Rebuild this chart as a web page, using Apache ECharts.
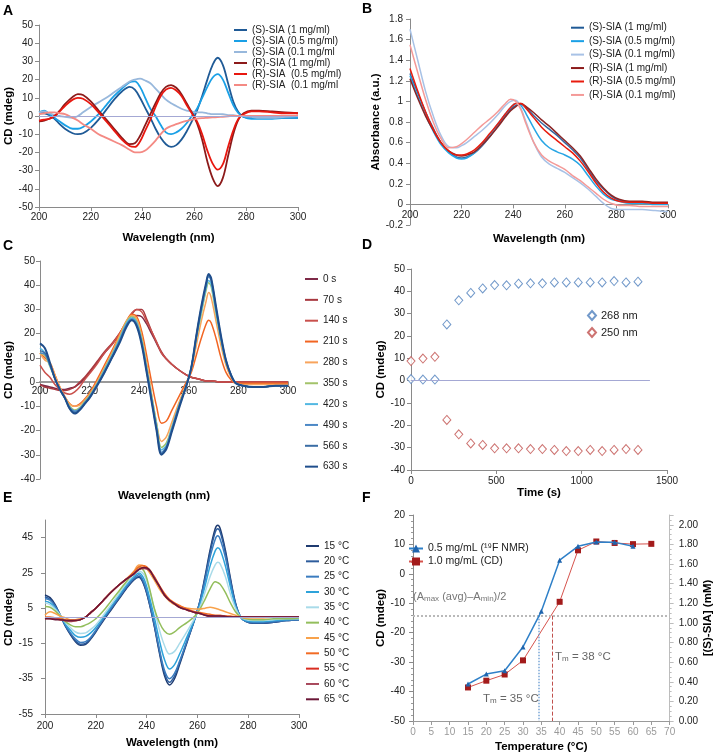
<!DOCTYPE html>
<html><head><meta charset="utf-8">
<script src="https://cdn.jsdelivr.net/npm/echarts@6/dist/echarts.min.js"></script>
<style>html,body{margin:0;padding:0;background:#fff}#c{width:715px;height:754px}</style>
</head><body><div id="c"></div>
<script>
// ---------- Panel A: CD spectra (mdeg) ----------
const wlA = [200,202,204,206,208,210,213,215,217,220,223,226,229,232,235,237,239,241,243,245,247,249,251,253,255,257,259,261,263,265,267,269,271,273,275,277,279,282,285,290,295,300];
const aS1  = [1.5,1.5,0.5,-1.5,-4.5,-7,-9.5,-10,-9.5,-6.5,-2,3.5,9,13.5,16,14.5,10,4.5,-1,-7,-12,-15.5,-17,-16,-13,-8.5,-3,3,11,20,28,32,28,18,8,2,-0.5,-1,-1,-1,-1,-1];
const aS05 = [2,3,1,-1,-3,-5,-7,-7,-6,-3,1,6,11,15,18.5,19,16,10,4,0,-5,-9,-10,-9,-7,-4,0,4,10,16,21,23,20,13,6,1.5,-0.5,-1.5,-1.5,-1.5,-1,-1];
const aS01 = [2,2.5,1.5,0.5,0,-0.5,-1,0,2,5,7.5,10,13,16,19,20,20.5,19.5,18,15,12,9,7,5.5,4,3,2.5,2,2,1.5,1,1,1,0.5,0.5,0,0,-0.5,-1,-1,-0.5,0];
const aR1  = [-3,-2.5,-1.5,0,3,6.5,10.5,12,11.5,8,3,-2,-7,-12,-15.5,-15,-11,-5,1,7,12.5,16,17,15.5,12,7,2,-4,-13,-25,-34,-38.5,-34,-22,-10,-2,1.5,3,3,2.5,2,1.5];
const aR05 = [-2.5,-2,-1.5,0,2.5,5.5,9,10,9.5,6.5,2,-3,-8,-13,-16.5,-17,-14,-8,-2,5,11,14.5,15.5,14,11,6,1.5,-3,-10,-19,-26,-29.5,-26.5,-17,-8,-1.5,1,2.5,2.5,2,1.5,1.5];
const aR01 = [1,1.5,2,2,1.5,1,-1,-2.5,-4.5,-7,-10,-12,-14,-16,-18.5,-20,-20,-19,-16.5,-13.5,-10,-7,-5.5,-4.5,-3.5,-2.7,-2,-1.5,-1.2,-1,-0.8,-0.6,-0.4,-0.2,0,0,0,0,0,0,0,0];
const namesA = ['(S)-SIA (1 mg/ml)','(S)-SIA (0.5 mg/ml)','(S)-SIA (0.1 mg/ml','(R)-SIA (1 mg/ml)','(R)-SIA  (0.5 mg/ml)','(R)-SIA  (0.1 mg/ml'];

// ---------- Panel B: absorbance ----------
const wlB = [200,203,206,209,212,215,218,220,222,225,228,231,234,237,239,241,243,245,248,251,254,257,260,263,266,269,272,275,278,281,285,290,295,300];
const bS1  = [1.27,1.08,0.9,0.74,0.6,0.51,0.46,0.45,0.46,0.5,0.57,0.66,0.76,0.86,0.92,0.96,0.97,0.94,0.86,0.79,0.73,0.67,0.6,0.53,0.45,0.34,0.23,0.15,0.08,0.04,0.02,0.02,0.01,0.01];
const bS05 = [1.25,1.05,0.87,0.71,0.58,0.5,0.45,0.44,0.45,0.5,0.58,0.68,0.78,0.88,0.94,0.98,0.96,0.88,0.74,0.62,0.55,0.51,0.48,0.44,0.38,0.28,0.18,0.1,0.05,0.03,0.01,0.01,0,0];
const bS01 = [1.7,1.4,1.1,0.86,0.67,0.56,0.55,0.57,0.6,0.66,0.72,0.79,0.87,0.96,1.0,1.01,0.93,0.8,0.6,0.46,0.39,0.35,0.31,0.26,0.21,0.15,0.08,0.01,-0.04,-0.05,-0.05,-0.05,-0.06,-0.07];
const bR1  = [1.22,1.03,0.86,0.72,0.6,0.52,0.48,0.47,0.48,0.51,0.58,0.66,0.75,0.85,0.91,0.95,0.98,0.95,0.89,0.82,0.76,0.69,0.62,0.55,0.47,0.36,0.25,0.16,0.09,0.05,0.03,0.03,0.02,0.02];
const bR05 = [1.32,1.1,0.9,0.73,0.6,0.52,0.48,0.48,0.49,0.53,0.6,0.69,0.78,0.88,0.94,0.98,0.98,0.93,0.84,0.75,0.68,0.62,0.56,0.5,0.42,0.32,0.21,0.12,0.06,0.03,0.02,0.02,0.01,0.01];
const bR01 = [1.55,1.28,1.02,0.8,0.64,0.55,0.56,0.59,0.63,0.7,0.77,0.83,0.9,0.98,1.02,1.0,0.92,0.78,0.6,0.48,0.42,0.38,0.34,0.28,0.23,0.17,0.11,0.05,0.01,-0.01,-0.01,-0.02,-0.02,-0.02];
const namesB = ['(S)-SIA (1 mg/ml)','(S)-SIA (0.5 mg/ml)','(S)-SIA (0.1 mg/ml)','(R)-SIA (1 mg/ml)','(R)-SIA (0.5 mg/ml)','(R)-SIA (0.1 mg/ml)'];

// ---------- Panel C: time series of CD spectra ----------
const wlC = [200,202,204,206,208,210,212,214,216,218,220,223,226,229,232,235,237,239,241,243,245,247,249,251,253,256,259,261,263,265,267,268,269,271,273,275,277,279,282,286,290,295,300];
const c0   = [-1,-1.5,-2,-2.5,-3,-3,-2.5,-2,-0.5,1.5,4,8,12,15.5,19.5,24,26,27.5,27,24,20,16,12,9.5,7.5,5,3,2,1.5,1,0.5,0.5,0.5,0.3,0,0,0,0,0,0,0,0,0];
const c70  = [-1,-2,-2.5,-3,-3.5,-3.5,-3,-2,0,2,4.5,8.5,12.5,16,20,25,28,30,30,26,21,16.5,12.5,9.5,7.5,5,3,2,1.5,1,0.5,0.5,0.5,0.3,0,0,0,0,0,0,0,0,0];
const c140 = [7,4,2,-1,-3,-4.5,-5,-4,-2,1,3.5,7.5,12,15.5,20,25,28.5,30,29,25,21,16.5,12,9.5,7.5,5,3,2,1.5,1,0.5,0.5,0.5,0.3,0,0,0,0,0,0,0,0,0];
const c210 = [12,10,8,3,-2,-6,-9,-10,-9,-7,-4.5,1,7,13,19.5,25.5,28,27,21,11,0,-10,-17,-16,-12,-6,0,4,11,18,24,25.5,24.5,18,10,4,1,-0.5,-0.5,-0.5,-0.5,-0.5,-0.5];
const c280 = [12,9,8,3,-2,-6,-9,-10,-9.5,-7.5,-5,0,6,12,19,25.5,27.5,26,19,8,-5,-17,-24.5,-22.5,-17,-8.5,-1,5,15,25,33.5,37,35,25,15,7,2,-0.5,-1,-1,-1,-1,-1];
const c350 = [12,11,6.5,1.5,-3,-6.5,-10,-11.5,-10.5,-8,-5.5,-0.5,5.5,11.5,18,25,27,25,18,6.5,-5.5,-17,-27,-25,-19,-9.5,-1,6,17.5,28,38,41,39.5,28,17,8,3,-0.5,-1.5,-2,-2,-1.5,-1.5];
const c420 = [14,12,7,1.5,-3,-6.5,-10.5,-12,-11,-8.5,-6,-1,5,11,17.5,24.5,26.5,24.5,17,5.5,-6.5,-18,-28,-26,-19.5,-10,-1.5,6,18,29,39,42,40.5,29,17.5,8.5,3,-0.5,-1.5,-2,-2,-1.5,-1.5];
const c490 = [12,11.5,7,1.5,-3,-6.5,-10.5,-12,-11,-8.5,-6,-1,4.5,10.5,17,24,26,24,16.5,5,-7,-19,-29,-26.5,-20,-10,-1.5,6,18.5,30,40,43.5,42,30,18,8.5,3,-0.5,-1.5,-2,-2,-1.5,-1.5];
const c560 = [13,12,7.5,1.5,-3,-6.5,-11,-12.5,-11.5,-9,-6.5,-1.5,4,10,16.5,23.5,25.5,23.5,16,4.5,-7.5,-19.5,-29.5,-27,-20.5,-10.5,-1.5,6,19,30.5,40.5,44,42.5,30.5,18.5,9,3,-0.5,-1.5,-2,-2,-1.5,-1.5];
const c630 = [16,14,8,1.5,-3,-6.5,-11,-13,-11.5,-9,-6.5,-1.5,4,10,16,23,25.5,23,15.5,4,-8,-20,-30,-27.5,-21,-11,-1.5,6,19,31,41,44.6,43,31,19,9,3,-0.5,-1.5,-2,-2,-1.5,-1.5];
const namesC = ['0 s','70 s','140 s','210 s','280 s','350 s','420 s','490 s','560 s','630 s'];

// ---------- Panel D: kinetics ----------
const dTime = [0,70,140,210,280,350,420,490,560,630,700,770,840,910,980,1050,1120,1190,1260,1330];
const d268  = [0.7,0.5,0.5,25.2,36,39.3,41.3,42.8,42.7,43.4,43.6,43.6,44,44,44,44,44,44.6,44,44.3];
const d250  = [8.8,9.9,10.7,-17.6,-24,-28.1,-28.8,-30.3,-30.3,-30.3,-30.6,-30.6,-31,-31.5,-31.5,-31,-31.5,-31,-30.6,-31];

// ---------- Panel E: temperature series of CD spectra ----------
const wlE = [200,202,204,206,208,210,212,214,216,218,220,223,226,229,232,235,237,239,241,243,245,247,249,251,253,256,259,261,263,265,267,268,269,271,273,275,277,279,282,286,290,295,300];
const e15 = [12.5,11,7,1,-5,-10,-14,-16,-15.5,-12.5,-8.5,-2,4,10,16,21,22.5,18,8,-5,-20,-33,-38.5,-35,-27,-14,-1,9,23,38,50,52,50,38,22,8,0,-2.5,-3.5,-3.5,-3,-2,-1.5];
const e20 = [11.5,10,6.5,1,-5,-9.5,-13.5,-15.5,-15,-12,-8,-1.5,4.5,10.5,16.5,21.5,23,18.5,8.5,-4.5,-19,-31.5,-37,-33.5,-26,-13.5,-1,9,22,36.5,48,50,48,36.5,21,7.5,0,-2.5,-3.5,-3.5,-3,-2,-1.5];
const e25 = [10.5,9.5,6,1,-4.5,-9,-12.5,-14.5,-14,-11.5,-7.5,-1,5,11,17,22,24,19.5,9.5,-3.5,-18,-30,-35,-32,-25,-13,-1,8.5,20.5,34,44,46,44,34,19.5,7,0,-2.5,-3,-3,-2.5,-2,-1.5];
const e30 = [9,8,5,1,-4,-7.5,-10.5,-11.5,-11,-9,-6,0,6,12,18,23,25,21.5,12,0,-13,-24,-29.5,-27,-21,-11,-1,7,17.5,29,37.5,39.3,38,29,17,6,0,-2,-2.5,-2.5,-2,-1.5,-1];
const e35 = [8,7,4.5,1,-3,-6,-8.5,-9.3,-9,-7,-4.5,1,7,13,19,24,26,24,16,5,-7,-16,-21,-19.5,-15,-8,-0.5,5.5,14,23,29.5,31,30,23,13,5,0,-1.5,-2,-2,-1.5,-1,-1];
const e40 = [6,5.5,3.5,0.5,-2.5,-4.5,-5.5,-5.5,-4.5,-3,-1,3.5,9,14.5,20,25.5,28,26,17,5,-3,-8,-9.8,-8.5,-6,-3,0.5,4.5,10,16,20,19.5,18.5,14,8,3,0,-1,-1.5,-1.5,-1,-1,-0.5];
const e45 = [1,3,2,0.5,-0.5,-1.5,-1.5,-1,0,2.5,5,9.5,14,18,21.5,26,29.5,29,25.5,21,16,12,9,7,6,5,4.5,4.5,5,5.5,5,4.5,4,3,2,1,0,-0.5,-0.5,-0.5,0,0,0];
const e50 = [0,0,-0.5,-1,-1.5,-2,-2,-1.5,0,2.5,5,9.5,14,18,21.5,25.5,28.5,29,27,23,18,13.5,10,8,6.5,4.5,3,2.5,2,1.5,1,1,1,0.5,0.5,0,0,0,0,0,0,0,0];
const e55 = [-1,-0.5,-1,-1.5,-2,-2,-2,-1.5,0,2.5,5,9.5,14,18,21.5,24.5,27,28,26.5,22.5,17.5,12.5,9.5,7.5,5.5,4,2.5,2,1,0.5,0.5,0.5,0.5,0.3,0,0,0,0,0,0,0,0,0];
const e60 = [-0.5,-1,-1,-1.5,-2,-2.5,-2,-1.5,0,2.5,5,9.5,14,18,21.5,24.5,27,27.5,26.5,22.5,17.5,12.5,9.5,7.5,5.5,4,2.5,2,1,0.5,0.5,0.5,0.5,0.3,0,0,0,0,0,0,0,0,0];
const e65 = [-1,-1,-1.5,-1.5,-2,-2,-2,-1.5,0,2.5,5,9.5,14,18,21.5,24.5,27,28,27,22,17.5,12.5,9.5,7.5,5.5,4,2.5,2,1,0.5,0.5,0.5,0.5,0.3,0,0,0,0,0,0,0,0,0];
const namesE = ['15 °C','20 °C','25 °C','30 °C','35 °C','40 °C','45 °C','50 °C','55 °C','60 °C','65 °C'];

// ---------- Panel F: melting curves ----------
const fTempNmr = [15,20,25,30,35,40,45,50,55,60];
const fNmr     = [0.377,0.478,0.512,0.755,1.118,1.639,1.781,1.825,1.821,1.781];   // mM, right axis
const fTempCd  = [15,20,25,30,40,45,50,55,60,65];
const fCd      = [-38.6,-36.3,-34.2,-29.4,-9.5,8.0,11.0,10.5,10.1,10.2];         // mdeg, left axis
const fHalf = -14.2, fTm1 = 34.4, fTm2 = 38.1;

// ---------------------------------------------------------------
const FONT = 'Arial, "Liberation Sans", Helvetica, sans-serif';
function merge(a, b) {
  const o = Object.assign({}, a);
  for (const k in b) {
    const v = b[k];
    if (v && typeof v === 'object' && !Array.isArray(v) && a[k] && typeof a[k] === 'object' && !Array.isArray(a[k])) o[k] = merge(a[k], v);
    else o[k] = v;
  }
  return o;
}
const pairs = (xs, ys) => xs.map((x, i) => [x, ys[i]]);
const baseAxis = {
  type: 'value', splitLine: {show: false},
  axisLine: {show: true, onZero: false, lineStyle: {color: '#8a8a8a', width: 1}},
  axisTick: {show: true, length: 4, lineStyle: {color: '#8a8a8a'}},
  axisLabel: {color: '#222', fontSize: 10, fontFamily: FONT},
  nameLocation: 'middle',
  nameTextStyle: {fontFamily: FONT, fontWeight: 'bold', fontSize: 11.5, color: '#000'}
};
const ax = o => merge(baseAxis, o);

function lineSeries(name, xs, ys, color, gi, yi, width) {
  return {type: 'line', name, xAxisIndex: gi, yAxisIndex: yi, data: pairs(xs, ys),
    symbol: 'none', smooth: 0.35, color, lineStyle: {color, width: width || 1.5}, z: 3, silent: true};
}
function zeroMark(from, to) {
  return {silent: true, symbol: ['none', 'none'], label: {show: false},
    lineStyle: {color: '#a4a8d4', width: 1, type: 'solid'},
    data: [[{coord: [from, 0]}, {coord: [to, 0]}]]};
}

const series = [];
// A
[[aS1,'#1f5a96'],[aS05,'#1aa0e6'],[aS01,'#98b8dc'],[aR1,'#8c1a1a'],[aR05,'#e8170f'],[aR01,'#f48a84']].forEach((d, i) => {
  series.push(lineSeries(namesA[i], wlA, d[0], d[1], 0, 0, 1.8));
});
series[0].markLine = zeroMark(200, 300);
// B
[[bS1,'#3567a0'],[bS05,'#27a5e4'],[bS01,'#a8c2e6'],[bR1,'#8b2525'],[bR05,'#e81c0e'],[bR01,'#f49a98']].forEach((d, i) => {
  series.push(lineSeries(namesB[i], wlB, d[0], d[1], 1, 1, 1.5));
});
// C
const colC = ['#7e2a48','#a8383f','#c9504c','#f26522','#f8a45c','#a3c36a','#53b8e2','#4c88c6','#3a6da5','#1f4e8c'];
[c0,c70,c140,c210,c280,c350,c420,c490,c560,c630].forEach((d, i) => {
  series.push(lineSeries(namesC[i], wlC, d, colC[i], 2, 2, i === 9 ? 2 : 1.5));
});
// D
series.push({type: 'scatter', name: '268 nm', xAxisIndex: 3, yAxisIndex: 3, data: pairs(dTime, d268),
  symbol: 'diamond', symbolSize: [8, 9], itemStyle: {color: '#ffffff', borderColor: '#4f7fbd', borderWidth: 1},
  markLine: {silent: true, symbol: ['none','none'], label: {show: false}, lineStyle: {color: '#a4a8d4', width: 1, type: 'solid'},
    data: [[{coord: [0, 0]}, {coord: [1400, 0]}]]}});
series.push({type: 'scatter', name: '250 nm', xAxisIndex: 3, yAxisIndex: 3, data: pairs(dTime, d250),
  symbol: 'diamond', symbolSize: [8, 9], itemStyle: {color: '#ffffff', borderColor: '#c0504d', borderWidth: 1}});
// E
const colE = ['#1f3b70','#2d5c9c','#3b7cbf','#2ea3da','#a9dbe9','#93be5c','#f8a24b','#f26b24','#d92d21','#a8485b','#6b1737'];
[e15,e20,e25,e30,e35,e40,e45,e50,e55,e60,e65].forEach((d, i) => {
  series.push(lineSeries(namesE[i], wlE, d, colE[i], 4, 4, 1.5));
});
series[series.length - 11].markLine = zeroMark(200, 300);
// F
series.push({type: 'line', name: '1.0 mg/mL (CD)', xAxisIndex: 5, yAxisIndex: 5, data: pairs(fTempCd, fCd),
  symbol: 'rect', symbolSize: 6, itemStyle: {color: '#a31b1b'}, lineStyle: {color: '#d6534d', width: 1}, z: 4,
  markLine: {silent: true, symbol: ['none','none'], label: {show: false},
    data: [
      [{coord: [0, fHalf], lineStyle: {color: '#b9b9b9', type: 'dotted', width: 2}}, {coord: [70, fHalf]}],
      [{coord: [fTm1, fHalf], lineStyle: {color: '#7aa6d6', type: 'dotted', width: 1.5}}, {coord: [fTm1, -50]}],
      [{coord: [fTm2, fHalf], lineStyle: {color: '#c0504d', type: 'dashed', width: 1}}, {coord: [fTm2, -50]}]
    ]}});
series.push({type: 'line', name: '0.5 mg/mL (¹⁹F NMR)', xAxisIndex: 5, yAxisIndex: 6, data: pairs(fTempNmr, fNmr),
  symbol: 'triangle', symbolSize: 5, itemStyle: {color: '#1f64ad'}, lineStyle: {color: '#2f80c8', width: 1.5}, z: 5});

const legendBase = {orient: 'vertical', itemHeight: 2, icon: 'rect',
  textStyle: {fontSize: 10, lineHeight: 10, color: '#222', fontFamily: FONT}, selectedMode: false, padding: 0};

const option = {
  animation: false,
  backgroundColor: '#fff',
  textStyle: {fontFamily: FONT},
  grid: [
    {left: 39, top: 25, width: 259, height: 182},
    {left: 410, top: 19, width: 258, height: 206},
    {left: 40, top: 261, width: 248, height: 218},
    {left: 411, top: 269, width: 256, height: 201},
    {left: 45, top: 520, width: 254, height: 194},
    {left: 413, top: 515, width: 261, height: 208}
  ],
  xAxis: [
    ax({gridIndex: 0, min: 200, max: 300, interval: 20, name: 'Wavelength (nm)', nameGap: 25, axisLabel: {margin: 5}}),
    ax({gridIndex: 1, min: 200, max: 300, interval: 20, name: 'Wavelength (nm)', nameGap: 8, nameMoveOverlap: false,
        axisLine: {onZero: true}, axisLabel: {margin: -15}}),
    ax({gridIndex: 2, min: 200, max: 300, interval: 20, name: 'Wavelength (nm)', nameGap: 11, nameMoveOverlap: false,
        axisLine: {onZero: true, lineStyle: {color: '#9a9a9a', width: 2}}, axisLabel: {margin: -93}}),
    ax({gridIndex: 3, min: 0, max: 1500, interval: 500, name: 'Time (s)', nameGap: 15,
        axisLabel: {margin: 6, formatter: v => String(v)}}),
    ax({gridIndex: 4, min: 200, max: 300, interval: 20, name: 'Wavelength (nm)', nameGap: 23, axisLabel: {margin: 7}}),
    ax({gridIndex: 5, min: 0, max: 70, interval: 5, name: 'Temperature (°C)', nameGap: 20,
        axisLabel: {margin: 6, color: '#9a9a9a'}, axisLine: {lineStyle: {color: '#9a9a9a'}}, axisTick: {lineStyle: {color: '#9a9a9a'}}})
  ],
  yAxis: [
    ax({gridIndex: 0, min: -50, max: 50, interval: 10, name: 'CD (mdeg)', nameGap: 24, axisLabel: {margin: 6}}),
    ax({gridIndex: 1, min: -0.2, max: 1.8, interval: 0.2, name: 'Absorbance (a.u.)', nameGap: 23, axisLabel: {margin: 7}}),
    ax({gridIndex: 2, min: -40, max: 50, interval: 10, name: 'CD (mdeg)', nameGap: 25, axisLabel: {margin: 5}}),
    ax({gridIndex: 3, min: -40, max: 50, interval: 10, name: 'CD (mdeg)', nameGap: 23, axisLabel: {margin: 6}}),
    ax({gridIndex: 4, min: -55, max: 55, interval: 5, name: 'CD (mdeg)', nameGap: 28,
        axisLabel: {margin: 12, customValues: [-55,-35,-15,5,25,45]}, axisTick: {customValues: [-55,-35,-15,5,25,45]}}),
    ax({gridIndex: 5, min: -50, max: 20, interval: 10, name: 'CD (mdeg)', nameGap: 24, axisLabel: {margin: 8},
        minorTick: {show: true, splitNumber: 5, length: 2, lineStyle: {color: '#9a9a9a'}}}),
    ax({gridIndex: 5, position: 'right', min: 0, max: 2.1, interval: 0.2, name: '[(S)-SIA] (mM)', nameGap: 24,
        axisLabel: {margin: 9, showMaxLabel: false, formatter: v => v.toFixed(2)},
        axisLine: {lineStyle: {color: '#bdbdbd'}}, axisTick: {lineStyle: {color: '#bdbdbd'}},
        minorTick: {show: true, splitNumber: 4, length: 2, lineStyle: {color: '#bdbdbd'}}})
  ],
  legend: [
    merge(legendBase, {left: 234, top: 25, itemWidth: 13, itemGap: 1, data: namesA}),
    merge(legendBase, {left: 571, top: 22.7, itemWidth: 13, itemGap: 3.45, data: namesB}),
    merge(legendBase, {left: 305, top: 274, itemWidth: 13, itemGap: 10.85, data: namesC}),
    merge(legendBase, {left: 587, top: 310, itemWidth: 8, itemHeight: 9, icon: null, itemGap: 6, data: ['268 nm', '250 nm'],
      textStyle: {fontSize: 11}}),
    merge(legendBase, {left: 306, top: 541, itemWidth: 13, itemGap: 5.33, data: namesE}),
    merge(legendBase, {left: 408, top: 543, itemWidth: 14, itemHeight: 10, icon: null, itemGap: 2,
      data: ['0.5 mg/mL (¹⁹F NMR)', '1.0 mg/mL (CD)'], textStyle: {fontSize: 10.5}})
  ],
  graphic: [
    {type: 'text', left: 3, top: 4, style: {text: 'A', fontSize: 14, fontWeight: 'bold', fontFamily: FONT, fill: '#000'}},
    {type: 'text', left: 362, top: 2, style: {text: 'B', fontSize: 14, fontWeight: 'bold', fontFamily: FONT, fill: '#000'}},
    {type: 'text', left: 3, top: 239, style: {text: 'C', fontSize: 14, fontWeight: 'bold', fontFamily: FONT, fill: '#000'}},
    {type: 'text', left: 362, top: 238, style: {text: 'D', fontSize: 14, fontWeight: 'bold', fontFamily: FONT, fill: '#000'}},
    {type: 'text', left: 3, top: 491, style: {text: 'E', fontSize: 14, fontWeight: 'bold', fontFamily: FONT, fill: '#000'}},
    {type: 'text', left: 362, top: 491, style: {text: 'F', fontSize: 14, fontWeight: 'bold', fontFamily: FONT, fill: '#000'}},
    {type: 'text', left: 413, top: 591, z: 10, style: {text: '{a|(A}{s|max}{a| (avg)–A}{s|min}{a|)/2}', fontFamily: FONT,
      rich: {a: {fontSize: 11, fill: '#777', fontFamily: FONT}, s: {fontSize: 8, fill: '#777', fontFamily: FONT, verticalAlign: 'bottom', padding: [4, 0, 0, 0]}}}},
    {type: 'text', left: 555, top: 651, z: 10, style: {text: '{a|T}{s|m}{a| = 38 °C}', fontFamily: FONT,
      rich: {a: {fontSize: 11.5, fill: '#666', fontFamily: FONT}, s: {fontSize: 8, fill: '#666', fontFamily: FONT, verticalAlign: 'bottom', padding: [4, 0, 0, 0]}}}},
    {type: 'text', left: 483, top: 693, z: 10, style: {text: '{a|T}{s|m}{a| = 35 °C}', fontFamily: FONT,
      rich: {a: {fontSize: 11.5, fill: '#666', fontFamily: FONT}, s: {fontSize: 8, fill: '#666', fontFamily: FONT, verticalAlign: 'bottom', padding: [4, 0, 0, 0]}}}}
  ],
  series
};
const chart = echarts.init(document.getElementById('c'), null, {renderer: 'canvas'});
chart.setOption(option);
</script>
</body></html>
